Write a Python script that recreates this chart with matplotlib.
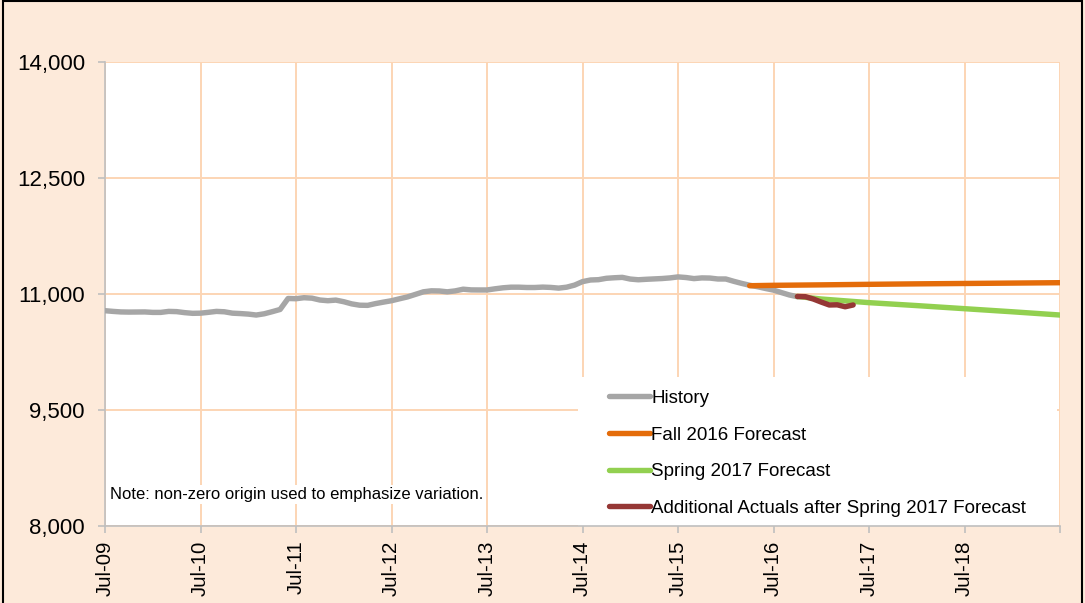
import matplotlib.pyplot as plt
from matplotlib.patches import Rectangle

plt.rcParams['font.family'] = ['Liberation Sans', 'DejaVu Sans']

# month index, 0 = Jul-09
history = [10784, 10775, 10768, 10766, 10767, 10768, 10762, 10762, 10775, 10772,
           10759, 10750, 10752, 10763, 10775, 10770, 10752, 10747, 10740, 10728,
           10744, 10771, 10800, 10942, 10939, 10952, 10946, 10922, 10913, 10921,
           10900, 10872, 10855, 10853, 10876, 10895, 10913, 10938, 10962, 10995,
           11028, 11041, 11039, 11028, 11040, 11062, 11053, 11052, 11052, 11067,
           11080, 11088, 11088, 11084, 11084, 11089, 11085, 11076, 11088, 11115,
           11160, 11181, 11185, 11203, 11210, 11215, 11193, 11184, 11190, 11195,
           11200, 11208, 11221, 11213, 11199, 11208, 11206, 11194, 11194, 11164,
           11137, 11113, 11094, 11071, 11050, 11018, 10987, 10965]
history_m = list(range(len(history)))

fall16_m = [81, 84, 90, 96, 102, 108, 114, 120]
fall16 = [11107, 11112, 11118, 11125, 11131, 11136, 11141, 11146]

spring17_m = [87, 90, 96, 102, 108, 114, 120]
spring17 = [10968, 10935, 10888, 10850, 10810, 10770, 10728]

actuals_m = [87, 88, 89, 90, 91, 92, 93, 94]
actuals = [10968, 10965, 10935, 10895, 10858, 10860, 10835, 10858]

xtick_m = [0, 12, 24, 36, 48, 60, 72, 84, 96, 108, 120]
xtick_labels = ["Jul-09", "Jul-10", "Jul-11", "Jul-12", "Jul-13", "Jul-14",
                "Jul-15", "Jul-16", "Jul-17", "Jul-18", ""]
yticks = [8000, 9500, 11000, 12500, 14000]

bg = "#FDEADA"
grid_c = "#FCD5B4"

fig = plt.figure(figsize=(10.85, 6.03), dpi=100, facecolor=bg)
ax = fig.add_axes([0.0968, 0.1277, 0.8802, 0.7695])
ax.set_facecolor("white")

ax.plot(history_m, history, color="#A6A6A6", lw=3.9, solid_capstyle="round", zorder=3, label="History")
ax.plot(fall16_m, fall16, color="#E46C0A", lw=3.9, solid_capstyle="round", zorder=4, label="Fall 2016 Forecast")
ax.plot(spring17_m, spring17, color="#92D050", lw=3.9, solid_capstyle="round", zorder=4, label="Spring 2017 Forecast")
ax.plot(actuals_m, actuals, color="#953735", lw=3.9, solid_capstyle="round", zorder=5,
        label="Additional Actuals after Spring 2017 Forecast")

ax.set_xlim(0, 120)
ax.set_ylim(8000, 14000)
ax.set_xticks(xtick_m)
ax.set_xticklabels(xtick_labels, rotation=90, fontsize=14.7)
ax.set_yticks(yticks)
ax.set_yticklabels([f"{v:,}" for v in yticks], fontsize=16)
ax.grid(True, color=grid_c, lw=1.4, zorder=1)
ax.set_axisbelow(True)

for s in ["top", "right"]:
    ax.spines[s].set_visible(False)
for s in ["left", "bottom"]:
    ax.spines[s].set_color("#BFBFBF")
    ax.spines[s].set_linewidth(1.2)
ax.tick_params(axis="y", length=5, width=1.2, color="#BFBFBF", pad=9.5)
ax.tick_params(axis="x", length=5, width=1.2, color="#BFBFBF", pad=5.5)

# white box behind the legend
ax.add_patch(Rectangle((0.495, 0), 0.502, 0.321, transform=ax.transAxes,
                       facecolor="white", edgecolor="none", zorder=2))
ax.legend(loc="upper left", bbox_to_anchor=(0.5277, 0.2935), frameon=False,
          fontsize=13.5, handlelength=2.2, handletextpad=0.05, borderpad=0,
          borderaxespad=0, labelspacing=1.04)

ax.text(0.0052, 0.067, "Note: non-zero origin used to emphasize variation.",
        transform=ax.transAxes, fontsize=12, va="center", ha="left", zorder=6,
        bbox=dict(facecolor="white", edgecolor="none", pad=1.5))

fig.add_artist(Rectangle((0.003, -0.01), 0.994, 1.008, transform=fig.transFigure,
                         facecolor="none", edgecolor="black", lw=1.5))

fig.savefig("out.png", dpi=100, facecolor=bg)
